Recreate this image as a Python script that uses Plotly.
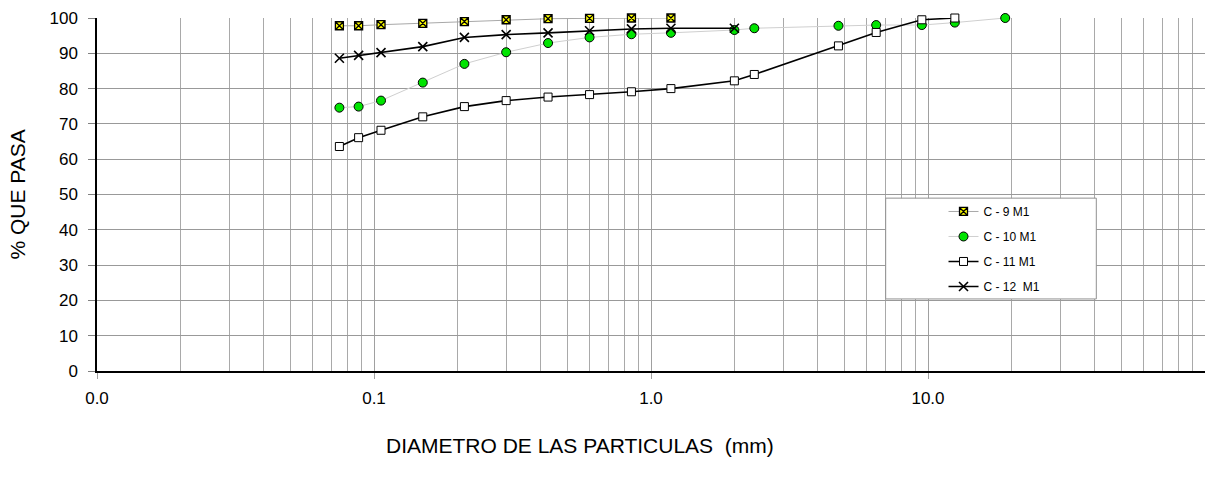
import plotly.graph_objects as go

# ---- data ----
sizes_c9 = [0.075, 0.088, 0.106, 0.15, 0.212, 0.3, 0.425, 0.6, 0.85, 1.18]
pasa_c9 = [97.8, 97.8, 98.1, 98.5, 99.0, 99.5, 99.8, 99.9, 100.0, 100.0]

sizes_c10 = [0.075, 0.088, 0.106, 0.15, 0.212, 0.3, 0.425, 0.6, 0.85, 1.18, 2.0, 2.36, 4.75, 6.5, 9.5, 12.5, 19.0]
pasa_c10 = [74.6, 74.9, 76.6, 81.7, 87.0, 90.3, 92.9, 94.5, 95.4, 95.8, 96.6, 97.1, 97.8, 98.0, 98.0, 98.7, 100.0]

sizes_c11 = [0.075, 0.088, 0.106, 0.15, 0.212, 0.3, 0.425, 0.6, 0.85, 1.18, 2.0, 2.36, 4.75, 6.5, 9.5, 12.5]
pasa_c11 = [63.6, 66.1, 68.2, 72.0, 74.9, 76.6, 77.6, 78.3, 79.1, 80.0, 82.2, 84.0, 92.1, 95.9, 99.5, 100.0]

sizes_c12 = [0.075, 0.088, 0.106, 0.15, 0.212, 0.3, 0.425, 0.6, 0.85, 1.18, 2.0]
pasa_c12 = [88.6, 89.4, 90.2, 91.9, 94.5, 95.3, 95.8, 96.4, 96.9, 97.1, 97.1]

series_names = ["C - 9 M1", "C - 10 M1", "C - 11 M1", "C - 12  M1"]

x_tickvals = [0.01, 0.1, 1, 10]
x_ticktext = ["0.0", "0.1", "1.0", "10.0"]
y_tickvals = list(range(0, 101, 10))

FONT = "Liberation Sans, Arial, sans-serif"

fig = go.Figure()

fig.add_trace(go.Scatter(
    x=sizes_c9, y=pasa_c9, name=series_names[0], mode="lines+markers",
    line=dict(color="#a8a8a8", width=1),
    marker=dict(symbol="square-x", size=8, color="#ffff00",
                line=dict(color="#000000", width=1.3)),
    legendgroup="g1", cliponaxis=False))

fig.add_trace(go.Scatter(
    x=sizes_c10, y=pasa_c10, name=series_names[1], mode="lines+markers",
    line=dict(color="#cfcfcf", width=1),
    marker=dict(symbol="circle", size=9, color="#00e400",
                line=dict(color="#000000", width=1)),
    legendgroup="g2", cliponaxis=False))

fig.add_trace(go.Scatter(
    x=sizes_c11, y=pasa_c11, name=series_names[2], mode="lines+markers",
    line=dict(color="#000000", width=1.6),
    marker=dict(symbol="square", size=8, color="#ffffff",
                line=dict(color="#000000", width=1)),
    legendgroup="g3", cliponaxis=False))

fig.add_trace(go.Scatter(
    x=sizes_c12, y=pasa_c12, name=series_names[3], mode="lines+markers",
    line=dict(color="#000000", width=1.6),
    marker=dict(symbol="x-thin", size=9, color="#000000",
                line=dict(color="#000000", width=1.6)),
    legendgroup="g4", cliponaxis=False))

minor_vals = [m * 10 ** e for e in (-2, -1, 0, 1) for m in range(2, 10)]

fig.update_xaxes(
    type="log", range=[-2, 2],
    tickmode="array", tickvals=x_tickvals, ticktext=x_ticktext,
    ticks="outside", ticklen=6, tickcolor="#a0a0a0",
    ticklabelstandoff=5,
    tickfont=dict(family=FONT, size=17, color="#000000"),
    showgrid=True, gridcolor="#a0a0a0", gridwidth=1,
    minor=dict(tickvals=minor_vals, showgrid=True, gridcolor="#a9a9a9", gridwidth=1, ticks=""),
    showline=True, linecolor="#000000", linewidth=1.5,
    zeroline=False)

fig.update_yaxes(
    range=[0, 100], tickmode="array", tickvals=y_tickvals,
    ticks="outside", ticklen=7, tickcolor="#808080",
    ticklabelstandoff=7,
    tickfont=dict(family=FONT, size=17, color="#000000"),
    showgrid=True, gridcolor="#999999", gridwidth=1,
    showline=True, linecolor="#000000", linewidth=1.5,
    zeroline=False)

# legend frame
fig.add_shape(type="rect", xref="paper", yref="paper",
              x0=0.7118, x1=0.9019, y0=0.2041, y1=0.4897,
              line=dict(color="#909090", width=1), fillcolor="#ffffff", layer="above")

fig.add_annotation(text="DIAMETRO DE LAS PARTICULAS  (mm)", xref="paper", yref="paper",
                   x=0.436, y=-0.21, xanchor="center", yanchor="middle", showarrow=False,
                   font=dict(family=FONT, size=21, color="#000000"))
fig.add_annotation(text="% QUE PASA", xref="paper", yref="paper",
                   x=-0.0713, y=0.5, xanchor="center", yanchor="middle", showarrow=False,
                   textangle=-90, font=dict(family=FONT, size=21, color="#000000"))

fig.update_layout(
    width=1205, height=482,
    margin=dict(l=97, r=0, t=18, b=111),
    paper_bgcolor="#ffffff", plot_bgcolor="#ffffff",
    showlegend=True,
    legend=dict(x=0.764, y=0.493, xanchor="left", yanchor="top",
                bgcolor="rgba(0,0,0,0)", borderwidth=0,
                tracegroupgap=6,
                font=dict(family=FONT, size=12, color="#000000")),
)

fig.write_html("out.html")
